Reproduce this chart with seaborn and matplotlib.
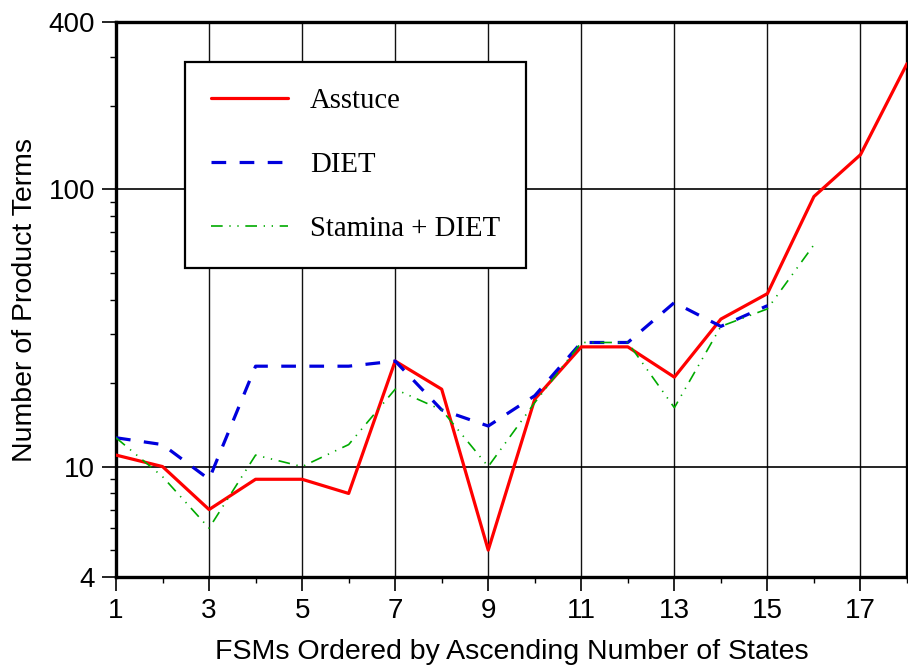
import numpy as np
import pandas as pd
import matplotlib
matplotlib.use("Agg")
import matplotlib.pyplot as plt
import matplotlib.ticker as mticker
import seaborn as sns

# Number of product terms for each FSM (ordered by number of states)
fsm_asstuce = list(range(1, 19))
asstuce = [11, 10, 7, 9, 9, 8, 24, 19, 5, 17.5, 27, 27, 21, 34, 42, 94, 133, 283]

fsm_diet = list(range(1, 16))
diet = [12.7, 12, 9, 23, 23, 23, 24, 16, 14, 18, 28, 28, 39, 32, 38]

fsm_stamina = list(range(1, 17))
stamina_diet = [12.7, 9.2, 6, 11, 10, 12, 19, 16, 10, 17, 28, 28, 16.3, 32, 37, 63]

series_names = ["Asstuce", "DIET", "Stamina + DIET"]

y_ticks = [4, 10, 100, 400]
x_major = [1, 3, 5, 7, 9, 11, 13, 15, 17]

df = pd.concat([
    pd.DataFrame({"fsm": fsm_asstuce, "terms": asstuce, "method": series_names[0]}),
    pd.DataFrame({"fsm": fsm_diet, "terms": diet, "method": series_names[1]}),
    pd.DataFrame({"fsm": fsm_stamina, "terms": stamina_diet, "method": series_names[2]}),
])

sns.set_style("white")
plt.rcParams["font.family"] = ["Liberation Sans", "DejaVu Sans"]
plt.rcParams["text.color"] = "black"
plt.rcParams["axes.labelcolor"] = "black"

fig = plt.figure(figsize=(9.08, 6.70), dpi=100)
ax = fig.add_axes([116 / 908, 93 / 670, 791 / 908, 555 / 670])

styles = {
    series_names[0]: dict(color="#ff0000", lw=2.3, ls="-"),
    series_names[1]: dict(color="#0000dd", lw=2.3, ls=(0, (4.6, 4.2))),
    series_names[2]: dict(color="#00aa00", lw=1.2, ls=(0, (7, 4, 0.8, 4, 0.8, 4))),
}
for name in series_names:
    st = styles[name]
    sns.lineplot(data=df[df["method"] == name], x="fsm", y="terms", ax=ax,
                 color=st["color"], linewidth=st["lw"], linestyle=st["ls"],
                 label=name, estimator=None, sort=False, zorder=3)

ax.set_yscale("log")
ax.set_xlim(1, 18)
ax.set_ylim(4, 400)

ax.set_xticks(x_major)
ax.set_xticklabels([str(i) for i in x_major])
ax.set_xticks([i for i in range(2, 19, 2)], minor=True)
ax.set_yticks(y_ticks)
ax.set_yticklabels([str(v) for v in y_ticks])
ax.yaxis.set_minor_locator(mticker.LogLocator(base=10, subs=np.arange(2, 10)))
ax.yaxis.set_minor_formatter(mticker.NullFormatter())

ax.tick_params(axis="both", which="major", direction="out", length=10, width=1.2,
               labelsize=20, colors="black", pad=5, left=True, bottom=True)
ax.tick_params(axis="both", which="minor", direction="out", length=4.5, width=1.0,
               colors="black", left=True, bottom=True)

ax.grid(False)
for x in x_major[1:]:
    ax.axvline(x, color="#111111", lw=1.0, zorder=1)
for y in (10, 100):
    ax.axhline(y, color="black", lw=1.2, zorder=1)

for sp in ax.spines.values():
    sp.set_visible(True)
    sp.set_color("black")
    sp.set_linewidth(2.4)

ax.set_xlabel("FSMs Ordered by Ascending Number of States", fontsize=20.5,
              labelpad=11, color="black")
ax.set_ylabel("Number of Product Terms", fontsize=20.5, labelpad=8, color="black")

leg = ax.legend(loc="upper left", bbox_to_anchor=(0.087, 0.928), frameon=True,
                fancybox=False, framealpha=1, edgecolor="black",
                prop={"family": ["Liberation Serif"], "size": 20.7},
                handlelength=2.7, handletextpad=0.75, labelspacing=1.32,
                borderpad=0.9, borderaxespad=0)
leg.get_frame().set_linewidth(1.6)
for t in leg.get_texts():
    t.set_color("black")

fig.savefig("out.png", dpi=100)
